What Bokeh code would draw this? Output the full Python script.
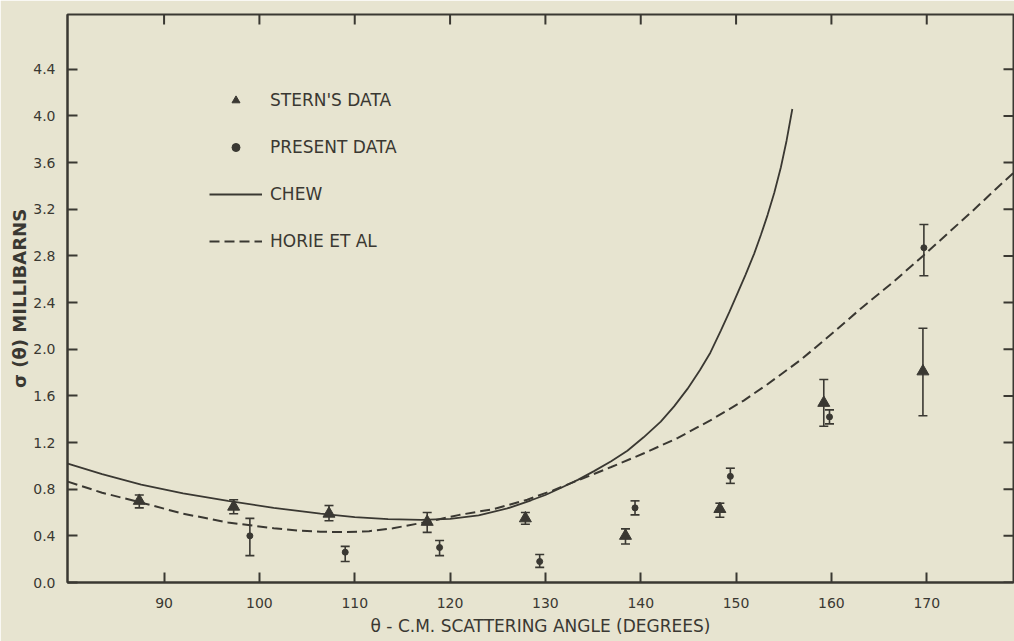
from bokeh.plotting import figure
from bokeh.models import (ColumnDataSource, Whisker, TeeHead, FixedTicker,
                          Legend, LegendItem, Range1d, PrintfTickFormatter)
from bokeh.embed import file_html
from bokeh.resources import INLINE

# ---------------- data ----------------
stern_angle = [87.4, 97.3, 107.3, 117.6, 127.9, 138.4, 148.3, 159.2, 169.6]
stern_sigma = [0.70, 0.65, 0.59, 0.52, 0.55, 0.40, 0.63, 1.54, 1.81]
stern_lo    = [0.64, 0.59, 0.53, 0.43, 0.50, 0.33, 0.56, 1.34, 1.43]
stern_hi    = [0.75, 0.71, 0.66, 0.60, 0.60, 0.46, 0.68, 1.74, 2.18]

present_angle = [99.0, 109.0, 118.9, 129.4, 139.4, 149.4, 159.8, 169.7]
present_sigma = [0.40, 0.26, 0.30, 0.18, 0.64, 0.91, 1.42, 2.87]
present_lo    = [0.23, 0.18, 0.23, 0.13, 0.58, 0.85, 1.36, 2.63]
present_hi    = [0.55, 0.31, 0.36, 0.24, 0.70, 0.98, 1.48, 3.07]

chew_angle = [79.9, 83.5, 87.6, 92.0, 96.7, 101.5, 106.4, 110.0, 113.5, 117.0,
              120.0, 123.0, 126.0, 128.5, 130.0, 131.6, 133.4, 135.1, 136.9,
              138.6, 140.3, 142.1, 143.5, 144.9, 146.2, 147.3, 148.4, 149.3,
              150.1, 151.0, 151.9, 152.6, 153.3, 154.0, 154.7, 155.3, 155.9]
chew_sigma = [1.02, 0.93, 0.84, 0.765, 0.70, 0.64, 0.59, 0.56, 0.543, 0.537,
              0.545, 0.575, 0.635, 0.705, 0.75, 0.81, 0.88, 0.955, 1.04,
              1.13, 1.245, 1.38, 1.51, 1.66, 1.82, 1.97, 2.16, 2.32,
              2.47, 2.64, 2.82, 2.98, 3.15, 3.34, 3.56, 3.79, 4.06]

horie_angle = [79.9, 83.5, 87.6, 92.0, 96.7, 101.5, 104.0, 106.4, 109.0, 111.5,
               114.0, 117.6, 121.0, 124.6, 128.1, 130.8, 133.4, 136.9, 140.4,
               143.9, 147.3, 150.8, 153.3, 156.8, 160.3, 163.1, 166.4, 169.6,
               172.3, 175.0, 177.2, 179.2]
horie_sigma = [0.865, 0.77, 0.685, 0.59, 0.515, 0.465, 0.445, 0.435, 0.432, 0.44,
               0.465, 0.52, 0.58, 0.63, 0.71, 0.79, 0.875, 0.99, 1.11,
               1.24, 1.39, 1.56, 1.70, 1.91, 2.15, 2.35, 2.57, 2.80,
               3.00, 3.20, 3.37, 3.52]

x_ticks = [90, 100, 110, 120, 130, 140, 150, 160, 170]
y_ticks = [0.0, 0.4, 0.8, 1.2, 1.6, 2.0, 2.4, 2.8, 3.2, 3.6, 4.0, 4.4]

legend_labels = ["STERN'S DATA", "PRESENT DATA", "CHEW", "HORIE ET AL"]
x_title = "\u03b8 - C.M. SCATTERING ANGLE (DEGREES)"
y_title = "\u03c3 (\u03b8) MILLIBARNS"

# ---------------- style ----------------
BG = "#e7e4d0"
INK = "#3a3832"
FONT = "DejaVu Sans"
X0, X1 = 79.87, 179.1
Y0, Y1 = 0.0, 4.87
W, H = 1014, 641
ML, MR, MT, MB = 67, 1, 14, 59
TICK = 10  # px, ticks point inward

p = figure(width=W, height=H, output_backend="svg", toolbar_location=None,
           x_range=Range1d(X0, X1), y_range=Range1d(Y0, Y1),
           min_border_left=ML, min_border_right=MR, min_border_top=MT,
           min_border_bottom=MB)
p.background_fill_color = BG
p.border_fill_color = BG
p.outline_line_color = INK
p.outline_line_width = 2
p.grid.visible = False

def style_axis(ax):
    ax.axis_line_color = INK
    ax.axis_line_width = 2
    ax.major_tick_line_color = INK
    ax.major_tick_line_width = 2
    ax.major_tick_in = TICK
    ax.major_tick_out = 0
    ax.minor_tick_line_color = None
    ax.major_label_text_color = INK
    ax.major_label_text_font = FONT
    ax.major_label_text_font_size = "14px"
    ax.axis_label_text_font = FONT
    ax.axis_label_text_color = INK

xa = p.xaxis[0]
xa.ticker = FixedTicker(ticks=x_ticks)
style_axis(xa)
xa.major_label_standoff = 15
xa.axis_label = x_title
xa.axis_label_text_font_style = "normal"
xa.axis_label_text_font_size = "17px"
xa.axis_label_standoff = 5

ya = p.yaxis[0]
ya.ticker = FixedTicker(ticks=y_ticks)
ya.formatter = PrintfTickFormatter(format="%.1f")
style_axis(ya)
ya.major_label_standoff = 12
ya.axis_label = y_title
ya.axis_label_text_font_style = "bold"
ya.axis_label_text_font_size = "18px"
ya.axis_label_standoff = 0

# inward ticks on the top and right edges of the frame (no labels there)
px_x = (W - ML - MR) / (X1 - X0)
px_y = (H - MT - MB) / (Y1 - Y0)
p.segment(x0=x_ticks, y0=[Y1] * len(x_ticks), x1=x_ticks,
          y1=[Y1 - TICK / px_y] * len(x_ticks), line_color=INK, line_width=2)
p.segment(x0=[X1] * len(y_ticks), y0=y_ticks, x1=[X1 - TICK / px_x] * len(y_ticks),
          y1=y_ticks, line_color=INK, line_width=2)

# ---------------- curves ----------------
chew = p.line(chew_angle, chew_sigma, line_color=INK, line_width=1.8)
horie = p.line(horie_angle, horie_sigma, line_color=INK, line_width=2,
               line_dash="10 5")

# ---------------- error bars & points ----------------
s_src = ColumnDataSource(dict(x=stern_angle, y=stern_sigma, lo=stern_lo, hi=stern_hi))
pr_src = ColumnDataSource(dict(x=present_angle, y=present_sigma, lo=present_lo, hi=present_hi))

for src in (s_src, pr_src):
    w = Whisker(source=src, base="x", upper="hi", lower="lo",
                line_color=INK, line_width=1.6,
                upper_head=TeeHead(size=9, line_color=INK, line_width=1.6),
                lower_head=TeeHead(size=9, line_color=INK, line_width=1.6))
    p.add_layout(w)

tri = p.scatter("x", "y", source=s_src, marker="triangle", size=12,
                fill_color=INK, line_color=INK)
dot = p.scatter("x", "y", source=pr_src, marker="circle", size=6,
                fill_color=INK, line_color=INK)

# ---------------- legend ----------------
legend = Legend(items=[LegendItem(label=legend_labels[0], renderers=[tri]),
                       LegendItem(label=legend_labels[1], renderers=[dot]),
                       LegendItem(label=legend_labels[2], renderers=[chew]),
                       LegendItem(label=legend_labels[3], renderers=[horie])],
                location=(142, 331), orientation="vertical",
                glyph_width=53, glyph_height=20, label_height=20,
                spacing=27, padding=0, margin=0, label_standoff=8,
                background_fill_alpha=0, border_line_alpha=0,
                label_text_font=FONT, label_text_font_size="17px",
                label_text_color=INK)
p.add_layout(legend, "center")

open("out.html", "w").write(file_html(p, INLINE))
